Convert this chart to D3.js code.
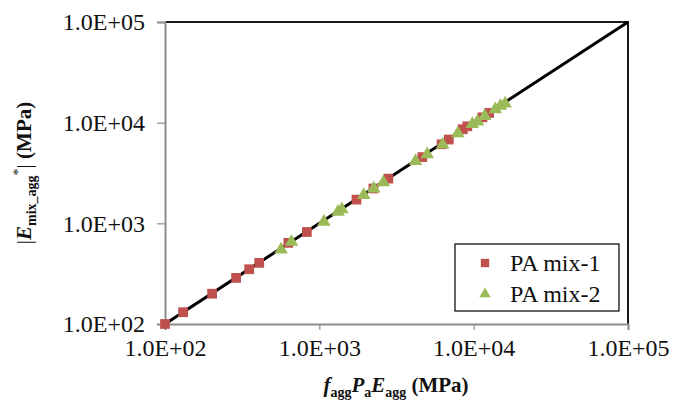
<!DOCTYPE html>
<html>
<head>
<meta charset="utf-8">
<script src="https://cdn.jsdelivr.net/npm/d3@7"></script>
<style>
  html, body { margin: 0; padding: 0; background: #fff; }
  svg { display: block; }
  svg text { font-family: "Liberation Serif", "Tinos", "Times New Roman", "DejaVu Serif", serif !important; fill: #111; }
</style>
</head>
<body>
<svg id="chart" width="683" height="406"></svg>
<script>
// Measured modulus vs. predicted value for two porous asphalt mixes
const mix1X = [100, 131, 202, 289, 351, 408, 630, 830, 1740, 2240, 2800, 4650, 6200, 6900, 8500, 9100, 11400, 12600];
const mix1Y = [100, 131, 200, 287, 350, 405, 640, 820, 1720, 2220, 2780, 4550, 6100, 6800, 8600, 9200, 11300, 12500];
const mix2X = [565, 660, 1070, 1320, 1400, 1940, 2250, 2600, 4200, 5000, 6300, 7900, 9800, 10600, 11800, 13800, 14900, 16000];
const mix2Y = [560, 670, 1060, 1330, 1410, 1950, 2260, 2620, 4250, 4950, 6200, 8000, 9900, 10500, 11900, 13900, 15000, 15800];
const tickValues = [1e2, 1e3, 1e4, 1e5];
const tickLabels = ["1.0E+02", "1.0E+03", "1.0E+04", "1.0E+05"];
const seriesNames = ["PA mix-1", "PA mix-2"];
const seriesColors = ["#C0504D", "#9BBB59"];

const FONT = '"Liberation Serif", "Tinos", "Times New Roman", "DejaVu Serif", serif';
const svg = d3.select("#chart");
const plot = { left: 165, right: 628, top: 22, bottom: 324 };

const x = d3.scaleLog().domain([1e2, 1e5]).range([plot.left, plot.right]);
const y = d3.scaleLog().domain([1e2, 1e5]).range([plot.bottom, plot.top]);
const fmt = d => tickLabels[tickValues.indexOf(d)];

// frame: top and right borders
svg.append("path")
  .attr("d", `M${plot.left},${plot.top}H${plot.right}V${plot.bottom}`)
  .attr("fill", "none").attr("stroke", "#1a1a1a").attr("stroke-width", 2);

// x axis
const gx = svg.append("g").attr("transform", `translate(0,${plot.bottom})`)
  .call(d3.axisBottom(x).tickValues(tickValues).tickFormat(fmt).tickSizeOuter(0).tickSize(6).tickPadding(9));
gx.attr("font-family", FONT).attr("font-size", 24);
gx.select(".domain").attr("stroke", "#8c8c8c").attr("stroke-width", 2);
gx.selectAll(".tick line").attr("stroke", "#8c8c8c").attr("stroke-width", 1.2);
gx.selectAll(".tick text").attr("fill", "#111");

// y axis
const gy = svg.append("g").attr("transform", `translate(${plot.left},0)`)
  .call(d3.axisLeft(y).tickValues(tickValues).tickFormat(fmt).tickSizeOuter(0).tickSize(8).tickPadding(12));
gy.attr("font-family", FONT).attr("font-size", 24);
gy.select(".domain").attr("stroke", "#8c8c8c").attr("stroke-width", 2);
gy.selectAll(".tick line").attr("stroke", "#8c8c8c").attr("stroke-width", 1.2);
gy.selectAll(".tick text").attr("fill", "#111");

// line of equality
svg.append("line")
  .attr("x1", x(1e2)).attr("y1", y(1e2))
  .attr("x2", x(1e5)).attr("y2", y(1e5))
  .attr("stroke", "#000").attr("stroke-width", 3);

const square = d3.symbol().type(d3.symbolSquare).size(95);
const triangle = d3.symbol().type(d3.symbolTriangle).size(80);

svg.append("g").selectAll("path")
  .data(d3.zip(mix1X, mix1Y))
  .join("path")
  .attr("d", square)
  .attr("transform", d => `translate(${x(d[0])},${y(d[1])})`)
  .attr("fill", seriesColors[0]);

svg.append("g").selectAll("path")
  .data(d3.zip(mix2X, mix2Y))
  .join("path")
  .attr("d", triangle)
  .attr("transform", d => `translate(${x(d[0])},${y(d[1]) + 1})`)
  .attr("fill", seriesColors[1]);

// legend
const lg = svg.append("g").attr("transform", "translate(455,244)");
lg.append("rect").attr("width", 164).attr("height", 67)
  .attr("fill", "#fff").attr("stroke", "#000").attr("stroke-width", 1.2);
const shapes = [d3.symbol().type(d3.symbolSquare).size(70), d3.symbol().type(d3.symbolTriangle).size(55)];
seriesNames.forEach((name, i) => {
  const cy = 19 + i * 31;
  lg.append("path").attr("d", shapes[i]).attr("transform", `translate(30,${cy})`).attr("fill", seriesColors[i]);
  lg.append("text").attr("x", 55).attr("y", cy + 8).attr("font-size", 24).text(name);
});

// x title: f_agg P_a E_agg (MPa)
const xt = svg.append("text").attr("x", 396).attr("y", 392)
  .attr("text-anchor", "middle").attr("font-size", 21).attr("font-weight", "bold");
xt.append("tspan").attr("font-style", "italic").text("f");
xt.append("tspan").attr("font-size", 14).attr("dy", 5).text("agg");
xt.append("tspan").attr("font-style", "italic").attr("dy", -5).text("P");
xt.append("tspan").attr("font-size", 14).attr("dy", 5).text("a");
xt.append("tspan").attr("font-style", "italic").attr("dy", -5).text("E");
xt.append("tspan").attr("font-size", 14).attr("dy", 5).text("agg");
xt.append("tspan").attr("dy", -5).text(" (MPa)");

// y title: |E_mix_agg*| (MPa)
const yt = svg.append("text").attr("transform", `translate(31,${(plot.top + plot.bottom) / 2}) rotate(-90)`)
  .attr("text-anchor", "middle").attr("font-size", 21).attr("font-weight", "bold");
yt.append("tspan").attr("font-weight", "normal").text("|");
yt.append("tspan").attr("font-style", "italic").text("E");
yt.append("tspan").attr("font-size", 14).attr("dy", 5).text("mix_agg");
yt.append("tspan").attr("font-size", 14).attr("font-weight", "normal").attr("dy", -13).text("*");
yt.append("tspan").attr("font-weight", "normal").attr("dy", 8).text("|");
yt.append("tspan").text(" (MPa)");
</script>
</body>
</html>
